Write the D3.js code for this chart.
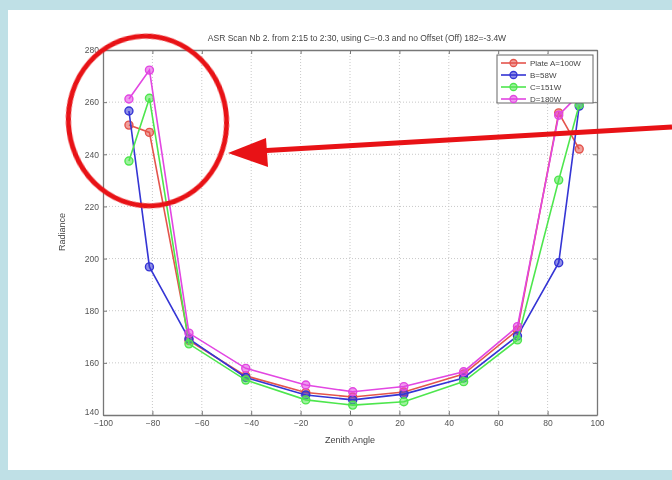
<!DOCTYPE html>
<html>
<head>
<meta charset="utf-8">
<script src="https://cdn.jsdelivr.net/npm/d3@7"></script>
<style>
  html, body { margin: 0; padding: 0; background: #bfe0e6; }
  svg { display: block; }
  text { font-family: "Liberation Sans", Arial, sans-serif; }
</style>
</head>
<body>
<svg id="chart" width="672" height="480"></svg>
<script>
// Zenith scan angles (degrees)
const angles = [-89.5, -81.2, -65.2, -42.2, -17.9, 1.1, 21.8, 46, 67.8, 84.5, 92.8];

// Radiance per plate
const plateA = [251.2, 248.4, 168.6, 155.0, 148.6, 146.9, 148.8, 155.7, 172.6, 255.9, 242.0];
const plateB = [256.6, 196.8, 169.2, 154.4, 147.7, 145.8, 148.0, 154.2, 170.3, 198.4, 258.5];
const plateC = [237.4, 261.5, 167.3, 153.4, 145.8, 143.8, 145.1, 152.8, 168.8, 230.1, 259.0];
const plateD = [261.2, 272.3, 171.4, 157.9, 151.5, 148.9, 150.9, 156.6, 173.9, 255.0, 263.0];

const seriesNames = ["Plate A=100W", "B=58W", "C=151W", "D=180W"];
const seriesColors = ["#e4544c", "#3434d4", "#4ee64e", "#e246e2"];

const xTicks = [-100, -80, -60, -40, -20, 0, 20, 40, 60, 80, 100];
const yTicks = [140, 160, 180, 200, 220, 240, 260, 280];

const titleText = "ASR Scan Nb 2. from 2:15 to 2:30, using C=-0.3 and no Offset (Off) 182=-3.4W";
const xLabel = "Zenith Angle";
const yLabel = "Radiance";

const svg = d3.select("#chart");

// white page panel
svg.append("rect").attr("x", 8).attr("y", 10).attr("width", 664).attr("height", 460).attr("fill", "#ffffff");

const defs = svg.append("defs");
defs.append("filter").attr("id", "soft")
  .append("feGaussianBlur").attr("stdDeviation", 0.6);
defs.append("clipPath").attr("id", "plotClip")
  .append("rect").attr("x", 103).attr("y", 50).attr("width", 494).attr("height", 365);

const box = { left: 103, right: 597, top: 50, bottom: 415 };
const x = d3.scaleLinear().domain([-100, 100]).range([box.left, box.right]);
const y = d3.scaleLinear().domain([140, 280]).range([box.bottom, box.top]);

const fig = svg.append("g").attr("filter", "url(#soft)");

// grid
const grid = fig.append("g").attr("stroke", "#c8c8c8").attr("stroke-dasharray", "1,2").attr("stroke-width", 1);
xTicks.slice(1, -1).forEach(t => grid.append("line")
  .attr("x1", x(t)).attr("x2", x(t)).attr("y1", box.top).attr("y2", box.bottom));
yTicks.slice(1, -1).forEach(t => grid.append("line")
  .attr("x1", box.left).attr("x2", box.right).attr("y1", y(t)).attr("y2", y(t)));

// axes
const tickStyle = g => {
  g.select(".domain").attr("stroke", "#777").attr("stroke-width", 1.3);
  g.selectAll(".tick line").attr("stroke", "#777");
  g.selectAll(".tick text").attr("fill", "#555").attr("font-size", 8.5);
};
fig.append("g").attr("transform", `translate(0,${box.bottom})`)
  .call(d3.axisBottom(x).tickValues(xTicks).tickSizeInner(-4).tickSizeOuter(0).tickPadding(5))
  .call(tickStyle);
fig.append("g").attr("transform", `translate(0,${box.top})`)
  .call(d3.axisTop(x).tickValues(xTicks).tickSizeInner(-4).tickSizeOuter(0).tickFormat(""))
  .call(tickStyle);
const yAxisG = fig.append("g").attr("transform", `translate(${box.left},0)`)
  .call(d3.axisLeft(y).tickValues(yTicks).tickSizeInner(-4).tickSizeOuter(0).tickPadding(4))
  .call(tickStyle);
// lowest label sits just above the corner so it clears the x labels
yAxisG.selectAll(".tick text").filter(d => d === 140).attr("dy", "-0.05em");
fig.append("g").attr("transform", `translate(${box.right},0)`)
  .call(d3.axisRight(y).tickValues(yTicks).tickSizeInner(-4).tickSizeOuter(0).tickFormat(""))
  .call(tickStyle);

// series lines and markers
const allSeries = [plateA, plateB, plateC, plateD];
const line = d3.line().x((d, i) => x(angles[i])).y(d => y(d));
const plot = fig.append("g").attr("clip-path", "url(#plotClip)");
allSeries.forEach((vals, k) => {
  const g = plot.append("g");
  g.append("path").datum(vals).attr("d", line)
    .attr("fill", "none").attr("stroke", seriesColors[k]).attr("stroke-width", 1.6);
  g.selectAll("circle").data(vals).join("circle")
    .attr("cx", (d, i) => x(angles[i])).attr("cy", d => y(d)).attr("r", 4)
    .attr("fill", seriesColors[k]).attr("fill-opacity", 0.55)
    .attr("stroke", seriesColors[k]).attr("stroke-width", 1.4);
});

// legend
const lg = fig.append("g");
lg.append("rect").attr("x", 497).attr("y", 55).attr("width", 96).attr("height", 48)
  .attr("fill", "#fff").attr("stroke", "#666").attr("stroke-width", 1);
seriesNames.forEach((name, k) => {
  const ly = 63 + k * 12;
  lg.append("line").attr("x1", 501).attr("x2", 526).attr("y1", ly).attr("y2", ly)
    .attr("stroke", seriesColors[k]).attr("stroke-width", 1.6);
  lg.append("circle").attr("cx", 513.5).attr("cy", ly).attr("r", 3.5)
    .attr("fill", seriesColors[k]).attr("fill-opacity", 0.55)
    .attr("stroke", seriesColors[k]).attr("stroke-width", 1.3);
  lg.append("text").attr("x", 530).attr("y", ly + 3).attr("font-size", 8).attr("fill", "#444").text(name);
});

// title and axis labels
fig.append("text").attr("x", 357).attr("y", 41).attr("text-anchor", "middle")
  .attr("font-size", 8.5).attr("fill", "#444").text(titleText);
fig.append("text").attr("x", 350).attr("y", 443).attr("text-anchor", "middle")
  .attr("font-size", 9).attr("fill", "#444").text(xLabel);
fig.append("text").attr("transform", "translate(65,232) rotate(-90)").attr("text-anchor", "middle")
  .attr("font-size", 9).attr("fill", "#444").text(yLabel);

// highlight: red ellipse and arrow pointing at it
const red = "#e81216";
svg.append("ellipse").attr("cx", 147.5).attr("cy", 121).attr("rx", 79).attr("ry", 85)
  .attr("transform", "rotate(-8,147.5,121)")
  .attr("fill", "none").attr("stroke", red).attr("stroke-width", 5);
svg.append("line").attr("x1", 672).attr("y1", 127).attr("x2", 258).attr("y2", 151)
  .attr("stroke", red).attr("stroke-width", 5);
svg.append("path").attr("d", "M228,153 L266,138 L268,167 Z").attr("fill", red);
</script>
</body>
</html>
